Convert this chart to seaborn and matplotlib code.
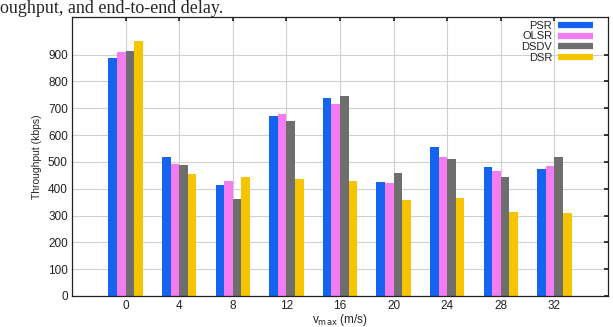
import numpy as np
import pandas as pd
import matplotlib
matplotlib.use("Agg")
import matplotlib.pyplot as plt
import seaborn as sns
from matplotlib.lines import Line2D

sns.set_theme(style="white")
plt.rcParams['font.family'] = ['Liberation Sans', 'DejaVu Sans']

# data
speeds = ["0", "4", "8", "12", "16", "20", "24", "28", "32"]
protocols = ["PSR", "OLSR", "DSDV", "DSR"]
psr = [887, 520, 414, 670, 737, 424, 557, 482, 474]
olsr = [908, 493, 427, 677, 715, 423, 520, 466, 486]
dsdv = [914, 489, 361, 654, 746, 458, 512, 445, 518]
dsr = [949, 455, 445, 437, 429, 358, 364, 312, 311]
colors = ["#1464F0", "#F27CF0", "#6E6E6E", "#F7C500"]

df = pd.DataFrame({
    "speed": speeds * 4,
    "protocol": np.repeat(protocols, len(speeds)),
    "throughput": psr + olsr + dsdv + dsr,
})

fig = plt.figure(figsize=(6.13, 3.27), dpi=100)
ax = fig.add_axes([72 / 613, 31 / 327, 536 / 613, 279 / 327])

sns.barplot(data=df, x="speed", y="throughput", hue="protocol",
            order=speeds, hue_order=protocols, palette=colors,
            width=0.64, gap=0, saturation=1, legend=False, ax=ax)
for p in ax.patches:
    p.set_edgecolor("none")

ax.set_xlim(-1, 9)
ax.set_ylim(0, 1040)
ax.set_yticks(range(0, 1000, 100))
ax.grid(True, color="#cfcfcf", linewidth=0.8)
ax.set_axisbelow(True)
for s in ax.spines.values():
    s.set_color("#222222")
    s.set_linewidth(0.9)
ax.tick_params(direction="in", top=True, right=True, length=3,
               labelsize=8.5, colors="#222222", pad=3)
ax.set_xlabel(r"v$_{\rm max}$ (m/s)", fontsize=8.5, labelpad=0)
ax.set_ylabel("Throughput (kbps)", fontsize=7.5, labelpad=4)

# thick flat bars as legend keys, labels on the left
handles = [Line2D([0], [0], color=c, lw=4.5, solid_capstyle="butt")
           for c in colors]
ax.legend(handles, protocols, loc="upper right", frameon=False,
          markerfirst=False, fontsize=8, handlelength=3.2,
          labelspacing=0.05, handletextpad=0.5,
          bbox_to_anchor=(0.985, 1.01), borderaxespad=0.2)

fig.text(0.0, 1 - 13 / 327, "oughput, and end-to-end delay.",
         fontsize=13, family="Liberation Serif", va="baseline", ha="left")

fig.savefig("out.png", dpi=100)
